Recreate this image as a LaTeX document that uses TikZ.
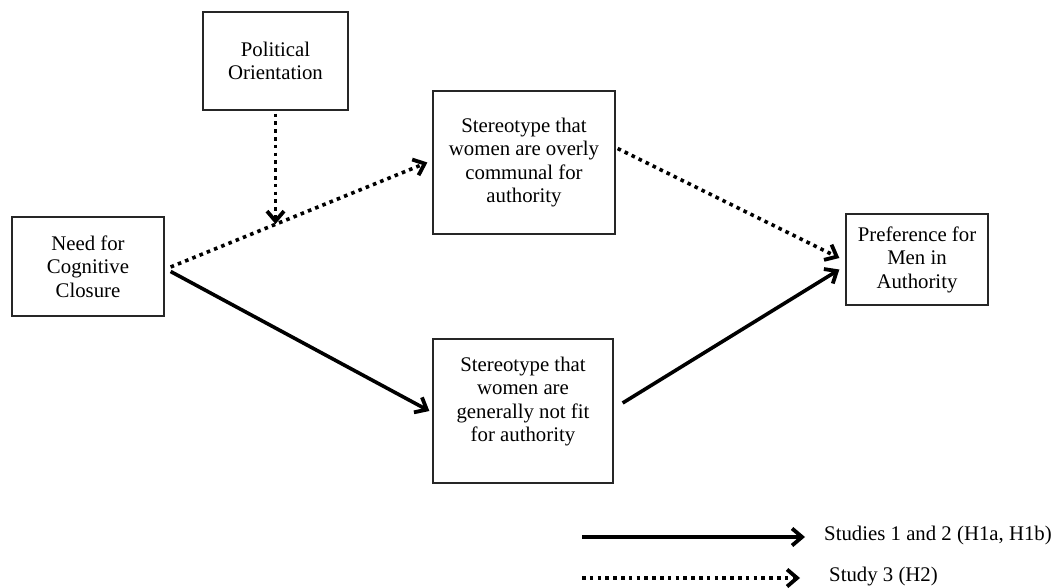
\documentclass[tikz,border=0pt]{standalone}
\usepackage{fontspec}
\setmainfont{Liberation Serif}
\usetikzlibrary{arrows.meta,calc}
\tikzset{
  box/.style={draw=black!85, line width=1.3pt, align=center, inner sep=0pt,
    font=\fontsize{20.8pt}{23.5pt}\selectfont},
  solidarrow/.style={line width=3.6pt, -{Straight Barb[length=10pt,width=17pt,line width=3.8pt]}},
  dotarrow/.style={line width=3.6pt, dash pattern=on 3.6pt off 4.2pt, -{Straight Barb[length=10pt,width=17pt,line width=3.8pt]}},
  legtext/.style={anchor=west, inner sep=0pt, font=\fontsize{20.8pt}{23.5pt}\selectfont}
}
\begin{document}
\begin{tikzpicture}[x=1pt,y=-1pt]
\useasboundingbox (0,0) rectangle (1053,588);
\node[box, minimum width=145pt, minimum height=98pt] (pol) at (275.5,61) {Political\\Orientation};
\node[box, minimum width=152pt, minimum height=99pt] (ncc) at (88,266.5) {Need for\\Cognitive\\Closure};
\node[box, minimum width=182pt, minimum height=143pt] (top) at (524,162.5) {Stereotype that\\women are overly\\communal for\\authority};
\node[box, minimum width=180pt, minimum height=144pt] (bot) at (523,411) {Stereotype that\\women are\\generally not fit\\for authority\\\mbox{}};
\node[box, minimum width=142pt, minimum height=91pt] (pref) at (917,259.5) {Preference for\\Men in\\Authority};
% connectors
\coordinate (d1s) at ([xshift=6pt,yshift=-0.5pt]ncc.east);
\coordinate (d1e) at ([xshift=-5pt]top.west);
\draw[dotarrow] (d1s) -- (d1e);
\path (d1s) -- (d1e) coordinate[pos=0.411] (mod);
\draw[dotarrow] ([yshift=-3pt]pol.south) -- (pol.south |- mod);
\draw[solidarrow] ([xshift=6pt,yshift=-5pt]ncc.east) -- ([xshift=-3pt]bot.west);
\draw[dotarrow] ([xshift=2pt,yshift=14pt]top.east) -- ([xshift=-6pt,yshift=1.5pt]pref.west);
\draw[solidarrow] ([xshift=9pt,yshift=8pt]bot.east) -- ([xshift=-6pt,yshift=-10pt]pref.west);
% legend
\coordinate (l1s) at (582,537);
\coordinate (l1e) at (805,537);
\coordinate (l2s) at (582,578);
\coordinate (l2e) at (800,578);
\draw[solidarrow] (l1s) -- (l1e);
\draw[dotarrow] (l2s) -- (l2e);
\node[legtext] (leg1) at (824,535) {Studies 1 and 2 (H1a, H1b)};
\node[legtext] (leg2) at (829,577) {Study 3 (H2)};
\end{tikzpicture}
\end{document}
